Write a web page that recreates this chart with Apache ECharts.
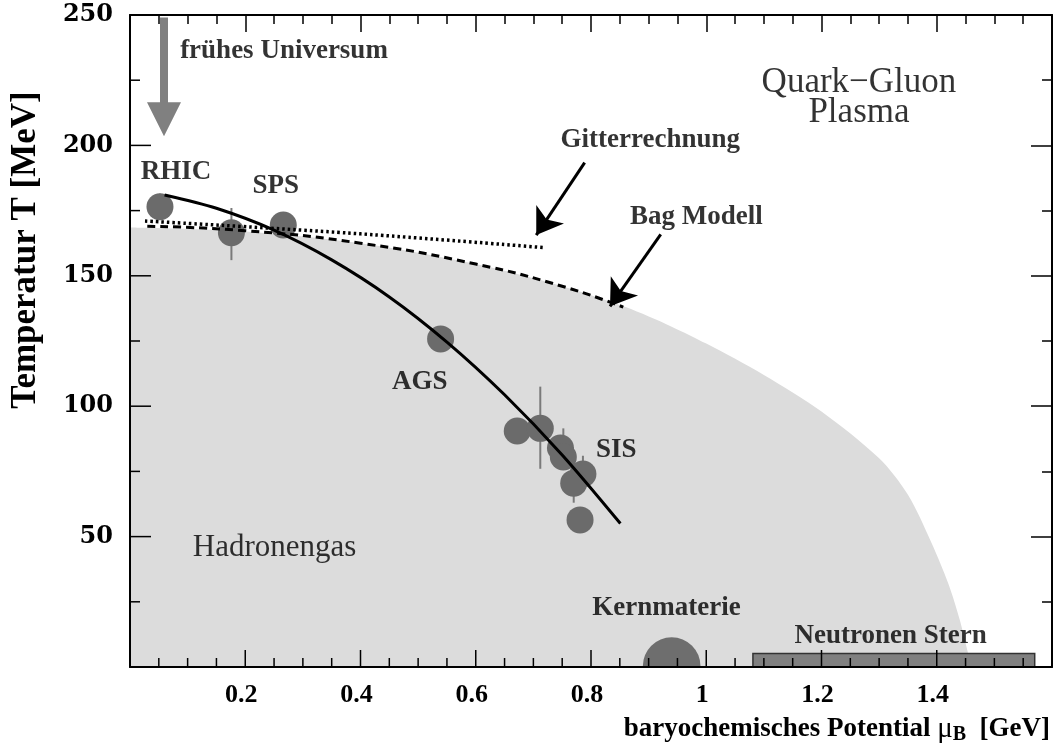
<!DOCTYPE html>
<html>
<head>
<meta charset="utf-8">
<script src="https://cdn.jsdelivr.net/npm/echarts@6/dist/echarts.min.js"></script>
<style>
  html, body { margin: 0; padding: 0; background: #fff; }
  #chart { width: 1055px; height: 748px; }
</style>
</head>
<body>
<div id="chart"></div>
<script>
// Hadronengas-Gebiet (Grenze)
const areaMu = [0, 0.2, 0.4, 0.6, 0.75, 0.86, 0.94, 1.0, 1.1, 1.2, 1.3, 1.35, 1.39, 1.42, 1.44, 1.46];
const areaT = [168.5, 167, 162.5, 154.5, 146, 138, 130.5, 124, 112, 98, 80, 66, 48, 32, 18, 0];

// Bag Modell (gestrichelt)
const bagMu = [0.03, 0.2, 0.4, 0.6, 0.75, 0.856];
const bagT = [169, 167.3, 162.5, 154.5, 146, 138];

// Gitterrechnung (gepunktet)
const latMu = [0.026, 0.3, 0.5, 0.718];
const latT = [171, 167.5, 164.5, 160.8];

// Ausfrier-Kurve
const fitMu = [0.06, 0.15, 0.25, 0.35, 0.45, 0.55, 0.65, 0.75, 0.851];
const fitT = [181, 175.9, 167.5, 156.1, 141.9, 124.6, 104.4, 81.3, 55];

// Messpunkte
const ptMu = [0.052, 0.176, 0.266, 0.539, 0.672, 0.712, 0.747, 0.752, 0.786, 0.770, 0.781];
const ptT = [176.5, 166.5, 169.5, 125.8, 90.5, 91.5, 84, 80.5, 74, 70.5, 56.4];
// Fehlerbalken [mu, T, muLo, muHi, TLo, THi]
const errBars = [
  [0.052, 176.5, 0.052, 0.052, 171.5, 181.5],
  [0.176, 166.5, 0.176, 0.176, 156, 176],
  [0.712, 91.5, 0.712, 0.712, 76, 107.5],
  [0.752, 84, 0.725, 0.77, 78, 91.5],
  [0.786, 74, 0.762, 0.80, 68, 81],
  [0.770, 70.5, 0.770, 0.770, 63, 76]
];

const kernMu = 0.94, kernR = 0.05;
const starMu = [1.081, 1.57], starT = 5.2;
const universeMu = 0.059, universeT = [249, 203.5];

// Pfeile [von, nach]
const arrowLines = [
  [[0.789, 193.4], [0.705, 165.6]],
  [[0.921, 165.9], [0.833, 138.3]]
];

const noteText = ['frühes Universum', 'Gitterrechnung', 'Bag Modell', 'RHIC', 'SPS', 'AGS', 'SIS', 'Kernmaterie', 'Neutronen Stern'];
const noteMu = [0.087, 0.903, 0.983, 0.080, 0.253, 0.503, 0.844, 0.931, 1.320];
const noteT = [236.2, 202, 172.4, 189.7, 184.3, 109.1, 83.3, 22.7, 11.9];

const bigText = ['Quark\u2212Gluon', 'Plasma', 'Hadronengas'];
const bigMu = [1.265, 1.265, 0.251];
const bigT = [223.9, 212.4, 45.7];

const xTicks = [0.2, 0.4, 0.6, 0.8, 1, 1.2, 1.4];
const yTicks = [50, 100, 150, 200, 250];
// Striche unten/links (Haupt- und Nebenstriche)
const xMajor = [0.2, 0.4, 0.6, 0.8, 1.0, 1.2, 1.4];
const xMinor = [];
for (let i = 1; i < 32; i++) if (i % 4) xMinor.push(i * 0.05);
const yMajor = [50, 100, 150, 200];
const yMinor = [25, 75, 125, 175, 225];

const zip = (a, b) => a.map((v, i) => [v, b[i]]);
const serif = "'Liberation Serif', 'DejaVu Serif', serif";

const chart = echarts.init(document.getElementById('chart'));

const frameAxis = (isX, position, label, ticks) => ({
  type: 'value', position: position,
  min: 0, max: isX ? 1.6 : 250, interval: isX ? 0.2 : 50,
  z: 10,
  axisLine: { show: true, onZero: false, lineStyle: { color: '#000', width: 2 } },
  axisTick: { show: ticks, inside: true, length: isX ? 17 : 21, lineStyle: { color: '#000', width: 1.5 } },
  minorTick: { show: ticks, splitNumber: isX ? 4 : 2, length: isX ? 9 : 10, lineStyle: { color: '#000', width: 1.5 } },
  splitLine: { show: false },
  minorSplitLine: { show: false },
  axisLabel: label || { show: false }
});

const option = {
  animation: false,
  grid: { left: 130, right: 1, top: 15, bottom: 81 },
  xAxis: [
    frameAxis(true, 'bottom', {
      show: true, margin: 15, padding: [0, 8, 0, 0], color: '#000',
      fontFamily: serif, fontWeight: 'bold', fontSize: 26,
      formatter: v => (xTicks.some(t => Math.abs(t - v) < 1e-6) ? String(+v.toFixed(1)) : '')
    }, false),
    frameAxis(true, 'top', null, true)
  ],
  yAxis: [
    frameAxis(false, 'left', {
      show: true, margin: 17, color: '#000',
      fontFamily: "'DejaVu Serif', serif", fontWeight: 'bold', fontSize: 24,
      formatter: v => (yTicks.includes(v) ? String(v) : '')
    }, false),
    frameAxis(false, 'right', null, true)
  ],
  graphic: [
    {
      type: 'text', x: 26, y: 250, rotation: Math.PI / 2,
      style: {
        text: 'Temperatur T [MeV]', fill: '#000', font: 'bold 35px ' + serif,
        align: 'center', verticalAlign: 'middle'
      }
    },
    {
      type: 'text', right: 5, bottom: 3,
      style: {
        text: '{a|baryochemisches Potential }{mu|\u03bc}{sub|B}{a|  [GeV]}',
        rich: {
          a: { fontFamily: serif, fontWeight: 'bold', fontSize: 27, fill: '#000' },
          mu: { fontFamily: serif, fontSize: 29, fill: '#000' },
          sub: { fontFamily: serif, fontWeight: 'bold', fontSize: 20, fill: '#000', padding: [12, 0, 0, 0] }
        }
      }
    }
  ],
  series: [
    {
      name: 'Hadronengas',
      type: 'line', z: 1, smooth: 0.3, symbol: 'none',
      data: zip(areaMu, areaT),
      lineStyle: { width: 0 },
      areaStyle: { color: '#dcdcdc', opacity: 1 }
    },
    {
      name: 'Fehler',
      type: 'custom', z: 2,
      data: errBars,
      renderItem: (params, api) => {
        const lo = api.coord([api.value(0), api.value(4)]);
        const hi = api.coord([api.value(0), api.value(5)]);
        const l = api.coord([api.value(2), api.value(1)]);
        const r = api.coord([api.value(3), api.value(1)]);
        const st = { stroke: '#7a7a7a', lineWidth: 2 };
        return {
          type: 'group',
          children: [
            { type: 'line', shape: { x1: lo[0], y1: lo[1], x2: hi[0], y2: hi[1] }, style: st },
            { type: 'line', shape: { x1: l[0], y1: l[1], x2: r[0], y2: r[1] }, style: st }
          ]
        };
      }
    },
    {
      name: 'Messpunkte',
      type: 'scatter', z: 3,
      data: zip(ptMu, ptT),
      symbol: 'circle', symbolSize: 27,
      itemStyle: { color: '#6b6b6b', opacity: 1 }
    },
    {
      name: 'Kernmaterie',
      type: 'custom', z: 3,
      data: [[kernMu, kernR]],
      renderItem: (params, api) => {
        const c = api.coord([api.value(0), 0]);
        const r = api.size([api.value(1), 0])[0];
        return {
          type: 'sector',
          shape: { cx: c[0], cy: c[1] - 1, r: r, r0: 0, startAngle: Math.PI, endAngle: 2 * Math.PI },
          style: { fill: '#6e6e6e' }
        };
      }
    },
    {
      name: 'Neutronen Stern',
      type: 'custom', z: 3,
      data: [[starMu[0], starMu[1], starT]],
      renderItem: (params, api) => {
        const a = api.coord([api.value(0), api.value(2)]);
        const b = api.coord([api.value(1), 0]);
        return {
          type: 'rect',
          shape: { x: a[0], y: a[1], width: b[0] - a[0], height: b[1] - a[1] },
          style: { fill: '#808080', stroke: '#333', lineWidth: 1.5 }
        };
      }
    },
    {
      name: 'Universum',
      type: 'custom', z: 3,
      data: [[universeMu, universeT[0], universeT[1]]],
      renderItem: (params, api) => {
        const top = api.coord([api.value(0), api.value(1)]);
        const tip = api.coord([api.value(0), api.value(2)]);
        const x = tip[0], hy = tip[1] - 34;
        return {
          type: 'polygon',
          shape: {
            points: [
              [x - 4, top[1]], [x + 4, top[1]], [x + 4, hy], [x + 17, hy],
              [x, tip[1]], [x - 17, hy], [x - 4, hy]
            ]
          },
          style: { fill: '#808080' }
        };
      }
    },
    {
      name: 'Bag Modell',
      type: 'line', z: 4, smooth: true, symbol: 'none',
      data: zip(bagMu, bagT),
      lineStyle: { color: '#000', width: 3, type: [8, 5] }
    },
    {
      name: 'Gitterrechnung',
      type: 'line', z: 4, smooth: true, symbol: 'none',
      data: zip(latMu, latT),
      lineStyle: { color: '#000', width: 3.5, type: [2.5, 3] }
    },
    {
      name: 'Freeze-out',
      type: 'line', z: 4, smooth: 0.3, symbol: 'none',
      data: zip(fitMu, fitT),
      lineStyle: { color: '#000', width: 3 }
    },
    {
      name: 'Pfeile',
      type: 'lines', coordinateSystem: 'cartesian2d', z: 5,
      data: arrowLines.map(c => ({ coords: c })),
      symbol: ['none', 'arrow'], symbolSize: 25,
      lineStyle: { color: '#000', width: 3, opacity: 1 }
    },
    {
      // Striche an der unteren und linken Achse
      name: 'Striche',
      type: 'custom', z: 8, silent: true,
      data: [[0, 0]],
      renderItem: (params, api) => {
        const st = { stroke: '#000', lineWidth: 1.5 };
        const kids = [];
        const xt = (v, len) => {
          const p = api.coord([v, 0]);
          kids.push({ type: 'line', shape: { x1: p[0], y1: p[1], x2: p[0], y2: p[1] - len }, style: st });
        };
        const yt = (v, len) => {
          const p = api.coord([0, v]);
          kids.push({ type: 'line', shape: { x1: p[0], y1: p[1], x2: p[0] + len, y2: p[1] }, style: st });
        };
        xMajor.forEach(v => xt(v, 17));
        xMinor.forEach(v => xt(v, 9));
        yMajor.forEach(v => yt(v, 21));
        yMinor.forEach(v => yt(v, 10));
        return { type: 'group', children: kids };
      }
    },
    {
      name: 'Notizen',
      type: 'scatter', z: 6, symbolSize: 0,
      data: noteText.map((t, i) => ({
        name: t, value: [noteMu[i], noteT[i]],
        label: i === 0 ? { align: 'left' } : {}
      })),
      label: {
        show: true, position: 'inside', formatter: '{b}', color: '#000',
        fontFamily: serif, fontWeight: 'bold', fontSize: 27
      }
    },
    {
      name: 'Gebiete',
      type: 'scatter', z: 6, symbolSize: 0,
      data: bigText.map((t, i) => ({
        name: t, value: [bigMu[i], bigT[i]],
        label: { fontSize: i < 2 ? 35 : 31 }
      })),
      label: {
        show: true, position: 'inside', formatter: '{b}', color: '#000',
        fontFamily: serif, fontWeight: 'normal', fontSize: 31
      }
    }
  ]
};

chart.setOption(option);
</script>
</body>
</html>
